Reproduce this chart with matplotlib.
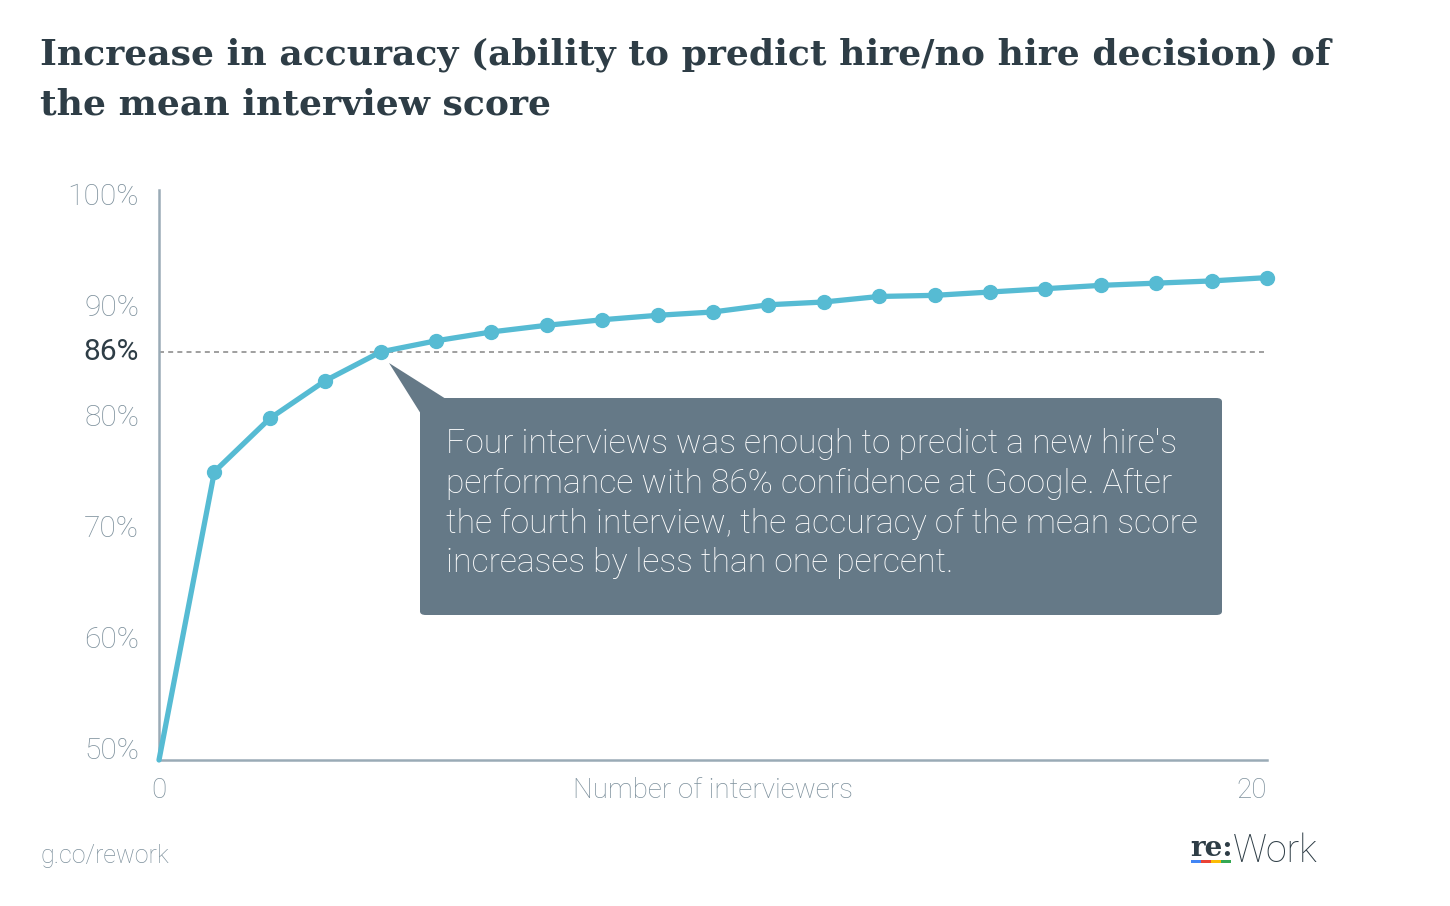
import matplotlib
matplotlib.use("Agg")
import matplotlib.pyplot as plt
from matplotlib.patches import FancyBboxPatch, Polygon, Rectangle

# ---- data ----
interviewers = list(range(0, 21))
accuracy = [49.2, 75.2, 80.0, 83.4, 86.0, 87.0, 87.8, 88.4, 88.9, 89.3, 89.6,
            90.25, 90.5, 91.0, 91.1, 91.4, 91.7, 92.0, 92.2, 92.4, 92.7]
ytick_vals = [50, 60, 70, 80, 90, 100]
ytick_labels = ["50%", "60%", "70%", "80%", "90%", "100%"]
threshold = 86
threshold_label = "86%"
xlabel = "Number of interviewers"
title = "Increase in accuracy (ability to predict hire/no hire decision) of\nthe mean interview score"
note = ("Four interviews was enough to predict a new hire's\n"
        "performance with 86% confidence at Google. After\n"
        "the fourth interview, the accuracy of the mean score\n"
        "increases by less than one percent.")
source = "g.co/rework"

W, H = 1450, 906
fig = plt.figure(figsize=(W / 100, H / 100), dpi=100)
fig.patch.set_facecolor("white")

def fx(x):
    return x / W

def fy(y):
    return 1 - y / H

LINE = "#56bbd3"
AXC = "#9aabb6"
TICKC = "#7d909c"
DARK = "#2e3d46"
BOX = "#657987"

ax = fig.add_axes([fx(159), fy(760), fx(1267) - fx(159), fy(190) - fy(760)])
ax.set_xlim(0, 20)
ax.set_ylim(49.2, 100.6)
for s in ["top", "right"]:
    ax.spines[s].set_visible(False)
for s in ["left", "bottom"]:
    ax.spines[s].set_color(AXC)
    ax.spines[s].set_linewidth(1.8)
ax.tick_params(length=0)
ax.set_xticks([])
ax.set_yticks([])

# y tick labels (drawn as text in data coords)
for v, lab in zip(ytick_vals, ytick_labels):
    ax.text(-0.36, v, lab, ha="right", va="center", fontsize=21.5,
            family="Roboto", fontweight="light", color=TICKC)
ax.text(-0.36, threshold, threshold_label, ha="right", va="center", fontsize=21.5,
        family="Roboto", color=DARK)

# x labels
ax.text(0, 47.7, "0", ha="center", va="top", fontsize=20, family="Roboto",
        fontweight="light", color=TICKC, clip_on=False)
ax.text(20, 47.7, "20", ha="right", va="top", fontsize=20, family="Roboto",
        fontweight="light", color=TICKC, clip_on=False)
ax.text(10, 47.7, xlabel, ha="center", va="top", fontsize=20, family="Roboto",
        fontweight="light", color=TICKC, clip_on=False)

# threshold dashed line
ax.axhline(threshold, color="#8f8f8f", lw=1.2, ls=(0, (3, 2.5)), zorder=1)

# series
ax.plot(interviewers, accuracy, color=LINE, lw=3.8, zorder=3, clip_on=False,
        solid_capstyle="round")
ax.plot(interviewers[1:], accuracy[1:], "o", color=LINE, ms=10, zorder=4,
        clip_on=False)

# title
fig.text(fx(40), fy(37), title, ha="left", va="top", fontsize=26,
         family="DejaVu Serif", fontweight="bold", color=DARK,
         linespacing=1.58)

# annotation callout
box = FancyBboxPatch((fx(420), fy(615)), fx(1222) - fx(420), fy(398) - fy(615),
                     boxstyle="round,pad=0,rounding_size=0.004",
                     transform=fig.transFigure, facecolor=BOX, edgecolor="none",
                     zorder=5)
fig.patches.append(box)
tri = Polygon([(fx(389), fy(363)), (fx(446), fy(399)), (fx(421), fy(414))],
              closed=True, transform=fig.transFigure, facecolor=BOX,
              edgecolor="none", zorder=5)
fig.patches.append(tri)
fig.text(fx(446), fy(428), note, ha="left", va="top", fontsize=24.2,
         family="Roboto", fontweight="light", color="white", linespacing=1.31,
         zorder=6)

# footer
fig.text(fx(40), fy(856), source, ha="left", va="center", fontsize=18,
         family="Roboto", fontweight="light", color=TICKC)

# re:Work logo
fig.text(fx(1190), fy(856), "re:", ha="left", va="baseline", fontsize=20,
         family="DejaVu Serif", fontweight="bold", color=DARK)
fig.text(fx(1233), fy(862), "Work", ha="left", va="baseline", fontsize=27,
         family="Roboto", fontweight="light", color=DARK)
for i, c in enumerate(["#4285f4", "#ea4335", "#fbbc05", "#34a853"]):
    fig.patches.append(Rectangle((fx(1191 + i * 10), fy(863)), fx(10), 3 / H,
                                 transform=fig.transFigure, facecolor=c,
                                 edgecolor="none"))

fig.savefig("out.png", dpi=100, facecolor="white")
